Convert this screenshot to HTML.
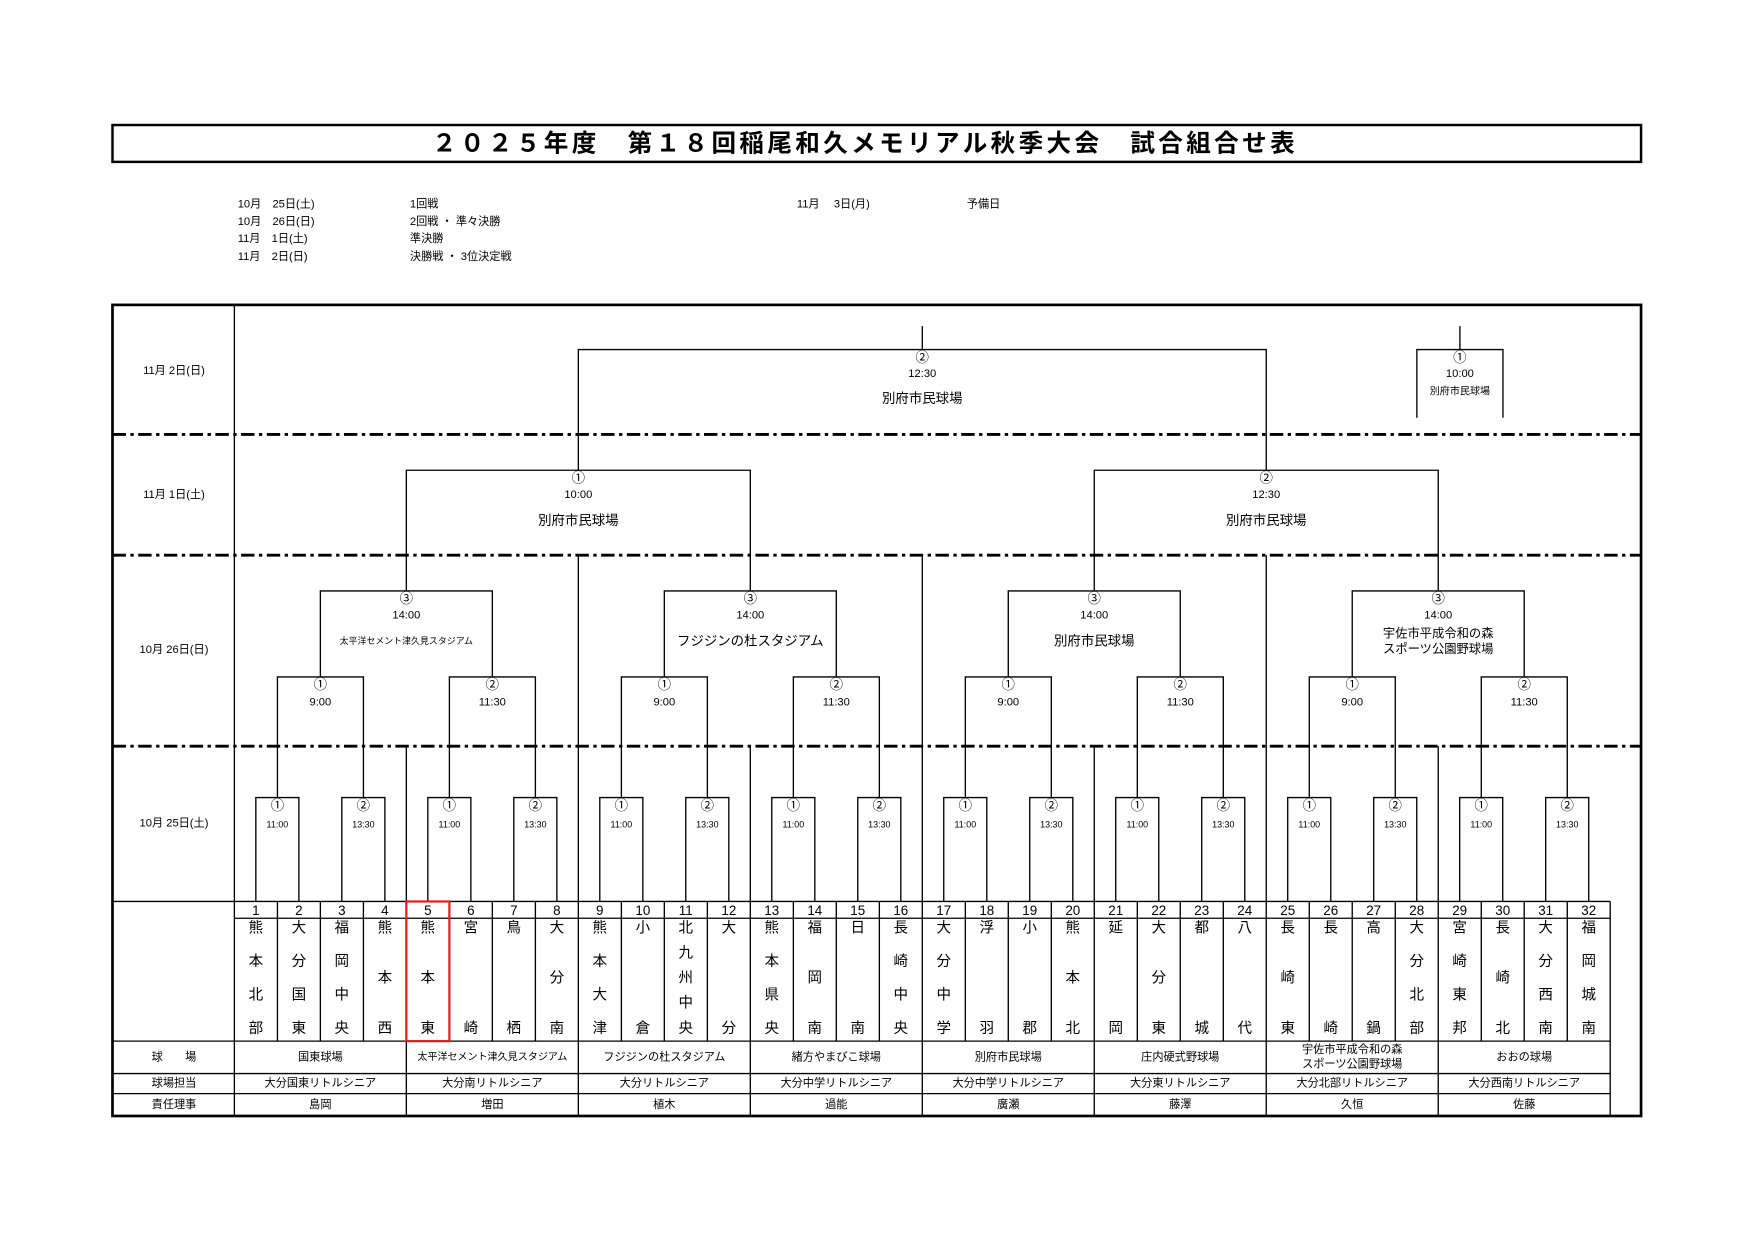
<!DOCTYPE html>
<html><head><meta charset="utf-8"><style>
html,body{margin:0;padding:0;background:#fff;}
svg{display:block;}
text{font-family:"Liberation Sans","Noto Sans CJK JP",sans-serif;fill:#000;text-anchor:middle;dominant-baseline:central;}
.s{font-size:10px;}
.t{font-size:8px;}
.m{font-size:11px;}
.v{font-size:13px;}
.n{font-size:12px;}
.l{stroke:#000;stroke-width:1.2;fill:none;}
.d{stroke:#000;stroke-width:2.6;stroke-dasharray:12 4 3 4;fill:none;}
</style></head><body>
<svg width="1755" height="1241" viewBox="-0.6 -1.9 1569.5 1110.8" preserveAspectRatio="none" xmlns="http://www.w3.org/2000/svg">
<!-- title -->
<rect x="100" y="110" width="1367" height="33" fill="none" stroke="#000" stroke-width="2.2"/>
<text x="773" y="127" style="font-size:22px;font-weight:bold;letter-spacing:3px">２０２５年度　第１８回稲尾和久メモリアル秋季大会　試合組合せ表</text>
<!-- schedule -->
<g class="s">
<text x="212" y="181" style="text-anchor:start">10月　25日(土)</text>
<text x="212" y="197" style="text-anchor:start">10月　26日(日)</text>
<text x="212" y="212" style="text-anchor:start">11月　1日(土)</text>
<text x="212" y="228" style="text-anchor:start">11月　2日(日)</text>
<text x="366" y="181" style="text-anchor:start">1回戦</text>
<text x="366" y="197" style="text-anchor:start">2回戦 ・ 準々決勝</text>
<text x="366" y="212" style="text-anchor:start">準決勝</text>
<text x="366" y="228" style="text-anchor:start">決勝戦 ・ 3位決定戦</text>
<text x="712" y="181" style="text-anchor:start">11月　 3日(月)</text>
<text x="864" y="181" style="text-anchor:start">予備日</text>
</g>
<!-- table frame -->
<rect x="100" y="271" width="1367" height="726" fill="none" stroke="#000" stroke-width="2.4"/>
<line class="l" x1="209" y1="271" x2="209" y2="997"/>
<line class="d" x1="100" y1="387" x2="1467" y2="387"/>
<line class="d" x1="100" y1="495" x2="1467" y2="495"/>
<line class="d" x1="100" y1="666" x2="1467" y2="666"/>
<text class="s" x="155" y="330">11月 2日(日)</text>
<text class="s" x="155" y="441">11月 1日(土)</text>
<text class="s" x="155" y="580">10月 26日(日)</text>
<text class="s" x="155" y="735">10月 25日(土)</text>
<!-- group dividers -->
<path class="l" d="M362.8 666V805M670.4 666V805M978 666V805M1285.6 666V805M516.6 495V805M824.2 495V805M1131.8 495V805"/>
<!-- R1 boxes -->
<path class="l" d="M228.2 805V712H266.7V805M305.1 805V712H343.6V805M382 805V712H420.5V805M458.9 805V712H497.4V805M535.8 805V712H574.3V805M612.7 805V712H651.2V805M689.6 805V712H728.1V805M766.5 805V712H805V805M843.4 805V712H881.9V805M920.3 805V712H958.8V805M997.2 805V712H1035.7V805M1074.1 805V712H1112.6V805M1151 805V712H1189.5V805M1227.9 805V712H1266.4V805M1304.8 805V712H1343.3V805M1381.7 805V712H1420.2V805"/>
<!-- R2 -->
<path class="l" d="M247.5 712V604H324.4V712M401.3 712V604H478.2V712M555.1 712V604H632V712M708.9 712V604H785.8V712M862.7 712V604H939.6V712M1016.5 712V604H1093.4V712M1170.3 712V604H1247.2V712M1324.1 712V604H1401V712"/>
<!-- QF -->
<path class="l" d="M285.9 604V527H439.7V604M593.5 604V527H747.3V604M901.1 604V527H1054.9V604M1208.7 604V527H1362.5V604"/>
<!-- SF -->
<path class="l" d="M362.8 527V419H670.4V527M978 527V419H1285.6V527"/>
<!-- Final -->
<path class="l" d="M516.6 419V311H1131.8V419M824.2 311V290"/>
<!-- 3rd place -->
<path class="l" d="M1266.5 372V311H1343.5V372M1305 311V290"/>
<!-- labels final -->
<text class="n" x="824.2" y="318">②</text>
<text class="s" x="824.2" y="333">12:30</text>
<text class="n" x="824.2" y="355">別府市民球場</text>
<text class="n" x="1305" y="318">①</text>
<text class="s" x="1305" y="333">10:00</text>
<text class="t" style="font-size:9px" x="1305" y="349">別府市民球場</text>
<!-- SF labels -->
<text class="n" x="516.6" y="426">①</text>
<text class="s" x="516.6" y="441">10:00</text>
<text class="n" x="516.6" y="464">別府市民球場</text>
<text class="n" x="1131.8" y="426">②</text>
<text class="s" x="1131.8" y="441">12:30</text>
<text class="n" x="1131.8" y="464">別府市民球場</text>
<!-- QF labels -->
<text class="n" x="362.8" y="534">③</text><text class="s" x="362.8" y="549">14:00</text>
<text class="t" x="362.8" y="572">太平洋セメント津久見スタジアム</text>
<text class="n" x="670.4" y="534">③</text><text class="s" x="670.4" y="549">14:00</text>
<text class="n" x="670.4" y="572">フジジンの杜スタジアム</text>
<text class="n" x="978" y="534">③</text><text class="s" x="978" y="549">14:00</text>
<text class="n" x="978" y="572">別府市民球場</text>
<text class="n" x="1285.6" y="534">③</text><text class="s" x="1285.6" y="549">14:00</text>
<text class="m" x="1285.6" y="565">宇佐市平成令和の森</text>
<text class="m" x="1285.6" y="579">スポーツ公園野球場</text>
<!-- R2 labels -->
<text class="n" x="285.9" y="611">①</text><text class="s" x="285.9" y="627">9:00</text>
<text class="n" x="439.7" y="611">②</text><text class="s" x="439.7" y="627">11:30</text>
<text class="n" x="593.5" y="611">①</text><text class="s" x="593.5" y="627">9:00</text>
<text class="n" x="747.3" y="611">②</text><text class="s" x="747.3" y="627">11:30</text>
<text class="n" x="901.1" y="611">①</text><text class="s" x="901.1" y="627">9:00</text>
<text class="n" x="1054.9" y="611">②</text><text class="s" x="1054.9" y="627">11:30</text>
<text class="n" x="1208.7" y="611">①</text><text class="s" x="1208.7" y="627">9:00</text>
<text class="n" x="1362.5" y="611">②</text><text class="s" x="1362.5" y="627">11:30</text>
<!-- R1 labels -->
<text class="n" x="247.5" y="719">①</text><text class="t" x="247.5" y="736">11:00</text>
<text class="n" x="324.4" y="719">②</text><text class="t" x="324.4" y="736">13:30</text>
<text class="n" x="401.3" y="719">①</text><text class="t" x="401.3" y="736">11:00</text>
<text class="n" x="478.2" y="719">②</text><text class="t" x="478.2" y="736">13:30</text>
<text class="n" x="555.1" y="719">①</text><text class="t" x="555.1" y="736">11:00</text>
<text class="n" x="632" y="719">②</text><text class="t" x="632" y="736">13:30</text>
<text class="n" x="708.9" y="719">①</text><text class="t" x="708.9" y="736">11:00</text>
<text class="n" x="785.8" y="719">②</text><text class="t" x="785.8" y="736">13:30</text>
<text class="n" x="862.7" y="719">①</text><text class="t" x="862.7" y="736">11:00</text>
<text class="n" x="939.6" y="719">②</text><text class="t" x="939.6" y="736">13:30</text>
<text class="n" x="1016.5" y="719">①</text><text class="t" x="1016.5" y="736">11:00</text>
<text class="n" x="1093.4" y="719">②</text><text class="t" x="1093.4" y="736">13:30</text>
<text class="n" x="1170.3" y="719">①</text><text class="t" x="1170.3" y="736">11:00</text>
<text class="n" x="1247.2" y="719">②</text><text class="t" x="1247.2" y="736">13:30</text>
<text class="n" x="1324.1" y="719">①</text><text class="t" x="1324.1" y="736">11:00</text>
<text class="n" x="1401" y="719">②</text><text class="t" x="1401" y="736">13:30</text>
<!-- bottom grid -->
<path class="l" d="M100 805H1439.4M209 820H1439.4M100 930H1439.4M100 959H1439.4M100 977H1439.4"/>
<path class="l" d="M247.5 805V930M285.9 805V930M324.4 805V930M401.3 805V930M439.7 805V930M478.2 805V930M555.1 805V930M593.5 805V930M632 805V930M708.9 805V930M747.3 805V930M785.8 805V930M862.7 805V930M901.1 805V930M939.6 805V930M1016.5 805V930M1054.9 805V930M1093.4 805V930M1170.3 805V930M1208.7 805V930M1247.2 805V930M1324.1 805V930M1362.5 805V930M1401 805V930"/>
<path class="l" d="M362.8 805V997M516.6 805V997M670.4 805V997M824.2 805V997M978 805V997M1131.8 805V997M1285.6 805V997M1439.4 805V997"/>
<rect x="362.8" y="805" width="38.5" height="125" fill="none" stroke="#e02020" stroke-width="2"/>
<!-- numbers -->
<text class="n" x="228.2" y="813">1</text><text class="n" x="266.7" y="813">2</text><text class="n" x="305.1" y="813">3</text><text class="n" x="343.6" y="813">4</text>
<text class="n" x="382" y="813">5</text><text class="n" x="420.5" y="813">6</text><text class="n" x="458.9" y="813">7</text><text class="n" x="497.4" y="813">8</text>
<text class="n" x="535.8" y="813">9</text><text class="n" x="574.3" y="813">10</text><text class="n" x="612.7" y="813">11</text><text class="n" x="651.2" y="813">12</text>
<text class="n" x="689.6" y="813">13</text><text class="n" x="728.1" y="813">14</text><text class="n" x="766.5" y="813">15</text><text class="n" x="805" y="813">16</text>
<text class="n" x="843.4" y="813">17</text><text class="n" x="881.9" y="813">18</text><text class="n" x="920.3" y="813">19</text><text class="n" x="958.8" y="813">20</text>
<text class="n" x="997.2" y="813">21</text><text class="n" x="1035.7" y="813">22</text><text class="n" x="1074.1" y="813">23</text><text class="n" x="1112.6" y="813">24</text>
<text class="n" x="1151" y="813">25</text><text class="n" x="1189.5" y="813">26</text><text class="n" x="1227.9" y="813">27</text><text class="n" x="1266.4" y="813">28</text>
<text class="n" x="1304.8" y="813">29</text><text class="n" x="1343.3" y="813">30</text><text class="n" x="1381.7" y="813">31</text><text class="n" x="1420.2" y="813">32</text>
<!-- team names -->
<g transform="translate(228.2,0)"><text class="v" y="829">熊</text><text class="v" y="859">本</text><text class="v" y="889">北</text><text class="v" y="919">部</text></g>
<g transform="translate(266.7,0)"><text class="v" y="829">大</text><text class="v" y="859">分</text><text class="v" y="889">国</text><text class="v" y="919">東</text></g>
<g transform="translate(305.1,0)"><text class="v" y="829">福</text><text class="v" y="859">岡</text><text class="v" y="889">中</text><text class="v" y="919">央</text></g>
<g transform="translate(343.6,0)"><text class="v" y="829">熊</text><text class="v" y="874">本</text><text class="v" y="919">西</text></g>
<g transform="translate(382,0)"><text class="v" y="829">熊</text><text class="v" y="874">本</text><text class="v" y="919">東</text></g>
<g transform="translate(420.5,0)"><text class="v" y="829">宮</text><text class="v" y="919">崎</text></g>
<g transform="translate(458.9,0)"><text class="v" y="829">鳥</text><text class="v" y="919">栖</text></g>
<g transform="translate(497.4,0)"><text class="v" y="829">大</text><text class="v" y="874">分</text><text class="v" y="919">南</text></g>
<g transform="translate(535.8,0)"><text class="v" y="829">熊</text><text class="v" y="859">本</text><text class="v" y="889">大</text><text class="v" y="919">津</text></g>
<g transform="translate(574.3,0)"><text class="v" y="829">小</text><text class="v" y="919">倉</text></g>
<g transform="translate(612.7,0)"><text class="v" y="829">北</text><text class="v" y="851.5">九</text><text class="v" y="874">州</text><text class="v" y="896.5">中</text><text class="v" y="919">央</text></g>
<g transform="translate(651.2,0)"><text class="v" y="829">大</text><text class="v" y="919">分</text></g>
<g transform="translate(689.6,0)"><text class="v" y="829">熊</text><text class="v" y="859">本</text><text class="v" y="889">県</text><text class="v" y="919">央</text></g>
<g transform="translate(728.1,0)"><text class="v" y="829">福</text><text class="v" y="874">岡</text><text class="v" y="919">南</text></g>
<g transform="translate(766.5,0)"><text class="v" y="829">日</text><text class="v" y="919">南</text></g>
<g transform="translate(805,0)"><text class="v" y="829">長</text><text class="v" y="859">崎</text><text class="v" y="889">中</text><text class="v" y="919">央</text></g>
<g transform="translate(843.4,0)"><text class="v" y="829">大</text><text class="v" y="859">分</text><text class="v" y="889">中</text><text class="v" y="919">学</text></g>
<g transform="translate(881.9,0)"><text class="v" y="829">浮</text><text class="v" y="919">羽</text></g>
<g transform="translate(920.3,0)"><text class="v" y="829">小</text><text class="v" y="919">郡</text></g>
<g transform="translate(958.8,0)"><text class="v" y="829">熊</text><text class="v" y="874">本</text><text class="v" y="919">北</text></g>
<g transform="translate(997.2,0)"><text class="v" y="829">延</text><text class="v" y="919">岡</text></g>
<g transform="translate(1035.7,0)"><text class="v" y="829">大</text><text class="v" y="874">分</text><text class="v" y="919">東</text></g>
<g transform="translate(1074.1,0)"><text class="v" y="829">都</text><text class="v" y="919">城</text></g>
<g transform="translate(1112.6,0)"><text class="v" y="829">八</text><text class="v" y="919">代</text></g>
<g transform="translate(1151,0)"><text class="v" y="829">長</text><text class="v" y="874">崎</text><text class="v" y="919">東</text></g>
<g transform="translate(1189.5,0)"><text class="v" y="829">長</text><text class="v" y="919">崎</text></g>
<g transform="translate(1227.9,0)"><text class="v" y="829">高</text><text class="v" y="919">鍋</text></g>
<g transform="translate(1266.4,0)"><text class="v" y="829">大</text><text class="v" y="859">分</text><text class="v" y="889">北</text><text class="v" y="919">部</text></g>
<g transform="translate(1304.8,0)"><text class="v" y="829">宮</text><text class="v" y="859">崎</text><text class="v" y="889">東</text><text class="v" y="919">邦</text></g>
<g transform="translate(1343.3,0)"><text class="v" y="829">長</text><text class="v" y="874">崎</text><text class="v" y="919">北</text></g>
<g transform="translate(1381.7,0)"><text class="v" y="829">大</text><text class="v" y="859">分</text><text class="v" y="889">西</text><text class="v" y="919">南</text></g>
<g transform="translate(1420.2,0)"><text class="v" y="829">福</text><text class="v" y="859">岡</text><text class="v" y="889">城</text><text class="v" y="919">南</text></g>
<!-- bottom rows -->
<text class="s" x="155" y="944.5">球　　場</text>
<text class="s" x="155" y="968">球場担当</text>
<text class="s" x="155" y="987">責任理事</text>
<text class="s" x="285.9" y="944.5">国東球場</text>
<text class="t" style="font-size:9px" x="439.7" y="944.5">太平洋セメント津久見スタジアム</text>
<text class="s" x="593.5" y="944.5">フジジンの杜スタジアム</text>
<text class="s" x="747.3" y="944.5">緒方やまびこ球場</text>
<text class="s" x="901.1" y="944.5">別府市民球場</text>
<text class="s" x="1054.9" y="944.5">庄内硬式野球場</text>
<text class="s" x="1208.7" y="938">宇佐市平成令和の森</text>
<text class="s" x="1208.7" y="951">スポーツ公園野球場</text>
<text class="s" x="1362.5" y="944.5">おおの球場</text>
<text class="s" x="285.9" y="968">大分国東リトルシニア</text>
<text class="s" x="439.7" y="968">大分南リトルシニア</text>
<text class="s" x="593.5" y="968">大分リトルシニア</text>
<text class="s" x="747.3" y="968">大分中学リトルシニア</text>
<text class="s" x="901.1" y="968">大分中学リトルシニア</text>
<text class="s" x="1054.9" y="968">大分東リトルシニア</text>
<text class="s" x="1208.7" y="968">大分北部リトルシニア</text>
<text class="s" x="1362.5" y="968">大分西南リトルシニア</text>
<text class="s" x="285.9" y="987">島岡</text>
<text class="s" x="439.7" y="987">増田</text>
<text class="s" x="593.5" y="987">植木</text>
<text class="s" x="747.3" y="987">過能</text>
<text class="s" x="901.1" y="987">廣瀬</text>
<text class="s" x="1054.9" y="987">藤澤</text>
<text class="s" x="1208.7" y="987">久恒</text>
<text class="s" x="1362.5" y="987">佐藤</text>
</svg>
</body></html>
